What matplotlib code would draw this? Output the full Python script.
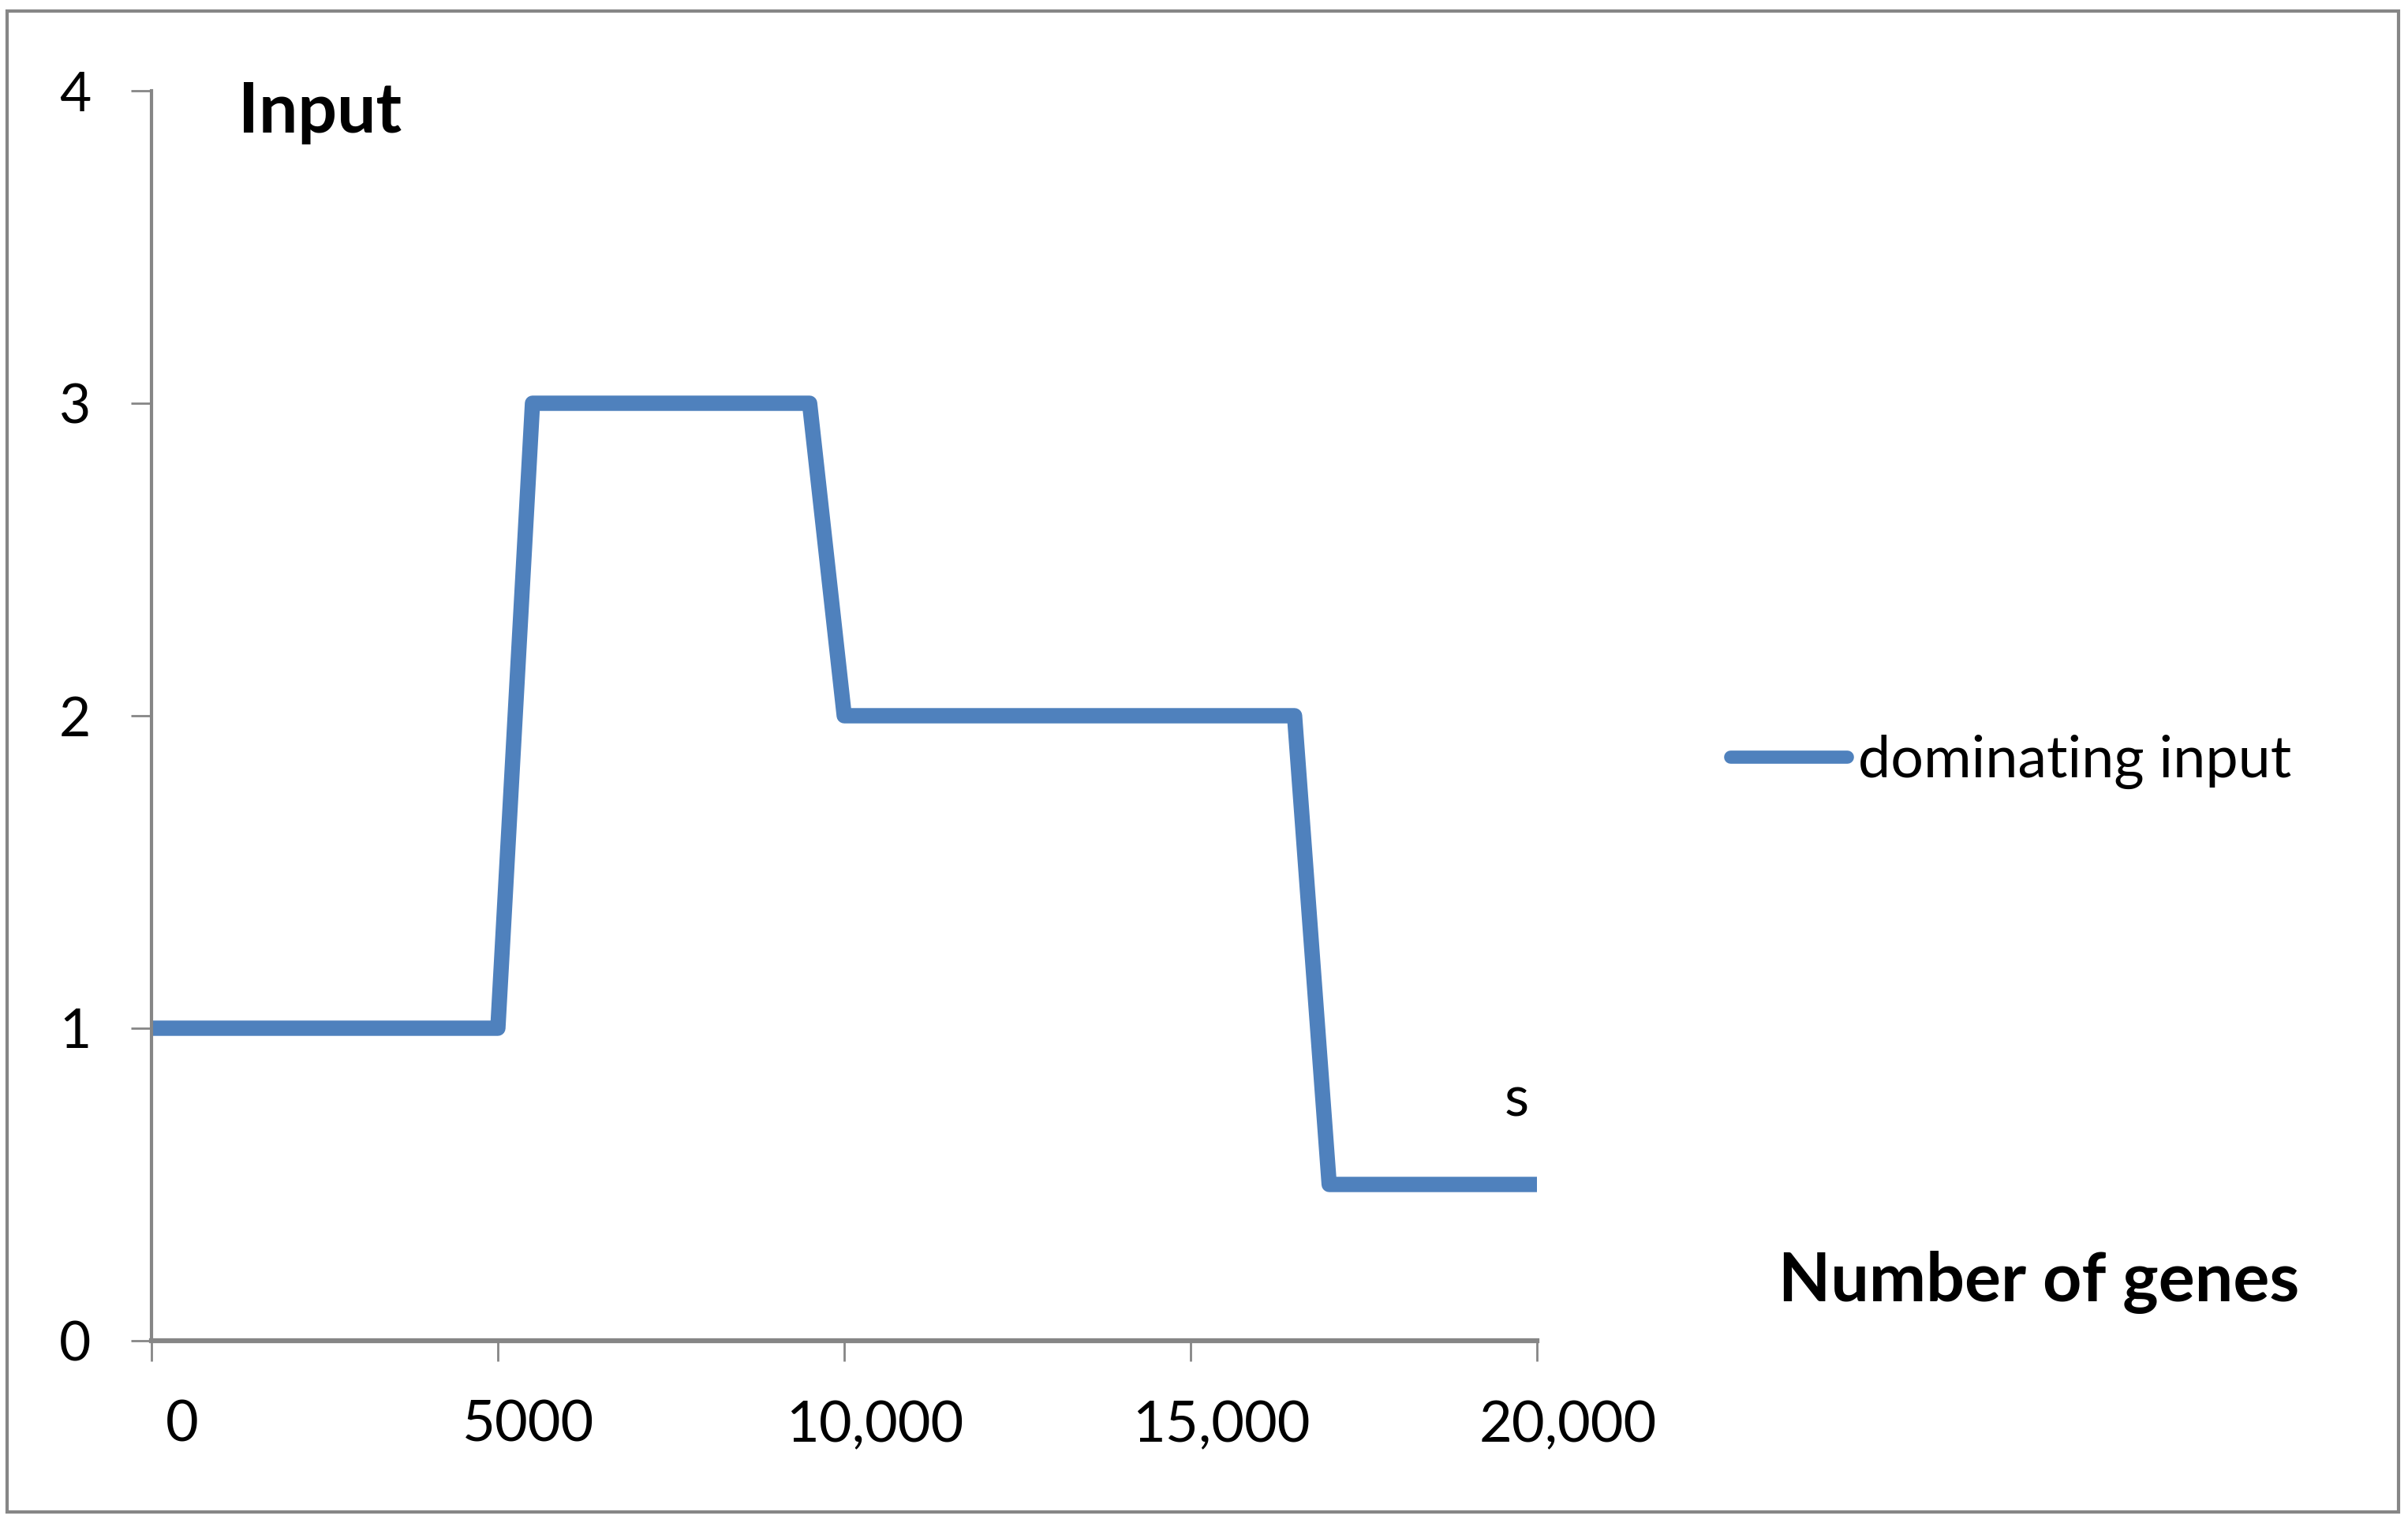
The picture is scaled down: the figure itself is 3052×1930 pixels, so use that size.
import matplotlib
matplotlib.use("Agg")
import matplotlib.pyplot as plt
import matplotlib.transforms as mtransforms
from matplotlib.patches import Rectangle

# data
genes = [0, 5000, 5500, 9500, 10000, 16500, 17000, 20000]
dominating_input = [1, 1, 3, 3, 2, 2, 0.5, 0.5]
x_ticks = [0, 5000, 10000, 15000, 20000]
x_tick_labels = ["0", "5000", "10,000", "15,000", "20,000"]
y_ticks = [0, 1, 2, 3, 4]

plt.rcParams['font.family'] = ['Lato', 'DejaVu Sans']
axis_grey = "#868686"
line_blue = "#4F81BD"

fig = plt.figure(figsize=(30.52, 19.30), dpi=100)
ax = fig.add_axes([0.0629, 0.1197, 0.5754, 0.8207])

line, = ax.plot(genes, dominating_input, color=line_blue, linewidth=14,
                solid_joinstyle='round', solid_capstyle='butt',
                label="dominating input")

ax.set_xlim(0, 20000)
ax.set_ylim(0, 4)
ax.set_xticks(x_ticks)
ax.set_xticklabels(x_tick_labels, fontsize=52)
ax.set_yticks(y_ticks)
ax.set_yticklabels([str(v) for v in y_ticks], fontsize=50)

for s in ['top', 'right']:
    ax.spines[s].set_visible(False)
ax.spines['left'].set_color(axis_grey)
ax.spines['left'].set_linewidth(3)
ax.spines['bottom'].set_color(axis_grey)
ax.spines['bottom'].set_linewidth(4.5)
ax.tick_params(axis='both', colors=axis_grey, labelcolor='black',
               length=19, width=2)
ax.tick_params(axis='x', pad=35)
ax.tick_params(axis='y', pad=36)

# Excel puts the category labels a bit to the right of the ticks
offset = mtransforms.ScaledTranslation(0.39, 0, fig.dpi_scale_trans)
for lbl in ax.get_xticklabels():
    lbl.set_transform(lbl.get_transform() + offset)

ax.text(0.099, 0.926, "Input", transform=fig.transFigure, fontsize=63,
        fontweight='bold', va='center', ha='left')
ax.text(0.7385, 0.158, "Number of genes", transform=fig.transFigure,
        fontsize=62, fontweight='bold', va='center', ha='left')
ax.text(19700, 0.77, "s", fontsize=52, ha='center', va='center')

leg = ax.legend(handles=[line], loc='center left',
                bbox_to_anchor=(0.697, 0.5), bbox_transform=fig.transFigure,
                frameon=False, fontsize=53, handlelength=2.0,
                handletextpad=0.2)
leg.get_lines()[0].set_linewidth(12)
leg.get_lines()[0].set_solid_capstyle('round')

fig.patches.append(Rectangle((0.003, 0.007), 0.993, 0.986,
                             transform=fig.transFigure, fill=False,
                             edgecolor=axis_grey, linewidth=3))

fig.savefig("out.png", dpi=100)
